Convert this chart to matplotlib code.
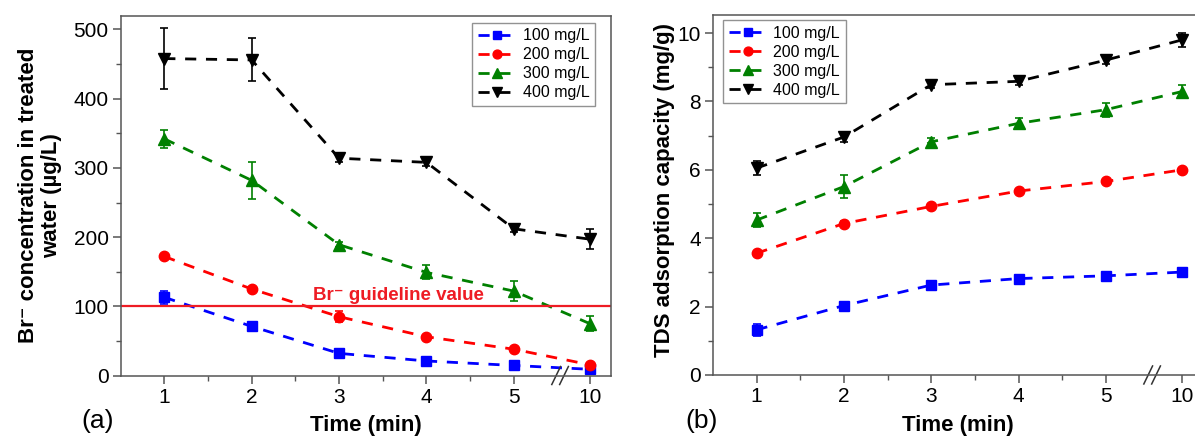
import matplotlib
matplotlib.use('Agg')
import matplotlib.pyplot as plt
import numpy as np

plt.rcParams['font.family'] = ['Liberation Sans', 'DejaVu Sans']

# data
time_labels = ['1', '2', '3', '4', '5', '10']
x_pos = np.array([1, 2, 3, 4, 5, 5.87])  # broken axis: 10 min drawn after 5
conc_labels = ['100 mg/L', '200 mg/L', '300 mg/L', '400 mg/L']

br_100 = [113, 71, 32, 21, 14.5, 9]
br_200 = [172, 125, 85, 56, 38, 15.5]
br_300 = [342, 282, 189, 149, 122, 75]
br_400 = [458, 456, 314, 308, 212, 197]
br_100_err = [9, 4, 4, 3, 3, 3]
br_200_err = [3, 3, 8, 3, 3, 3]
br_300_err = [13, 27, 4, 10, 14, 11]
br_400_err = [44, 31, 5, 5, 5, 14]

tds_100 = [1.32, 2.03, 2.63, 2.82, 2.90, 3.01]
tds_200 = [3.56, 4.43, 4.93, 5.38, 5.66, 6.00]
tds_300 = [4.53, 5.51, 6.82, 7.36, 7.76, 8.29]
tds_400 = [6.05, 6.96, 8.49, 8.59, 9.21, 9.80]
tds_100_err = [0.18, 0.08, 0.07, 0.07, 0.08, 0.07]
tds_200_err = [0.07, 0.07, 0.07, 0.07, 0.05, 0.05]
tds_300_err = [0.2, 0.33, 0.1, 0.15, 0.2, 0.2]
tds_400_err = [0.2, 0.15, 0.1, 0.12, 0.1, 0.2]

guideline = 100

colors = ['#0000ff', '#ff0000', '#008000', '#000000']
markers = ['s', 'o', '^', 'v']
msizes = [6.5, 7.5, 8, 8]
spine_c = '#555555'


def style_axes(ax, ylim, ymajor, yminor):
    ax.set_xlim(0.505, 6.11)
    ax.set_ylim(*ylim)
    ax.set_xticks(x_pos)
    ax.set_xticklabels(time_labels)
    ax.set_xticks([1.5, 2.5, 3.5, 4.5], minor=True)
    ax.set_yticks(ymajor)
    ax.set_yticks(yminor, minor=True)
    for s in ax.spines.values():
        s.set_color(spine_c)
        s.set_linewidth(1.1)
    ax.tick_params(which='major', direction='out', length=6, width=1.1,
                   color=spine_c, labelsize=15, pad=3)
    ax.tick_params(which='minor', direction='out', length=3.5, width=1.0,
                   color=spine_c)
    # axis break marks
    brk = 5.53
    for dx in (-0.045, 0.045):
        ax.plot([brk + dx - 0.05, brk + dx + 0.05], [-0.025, 0.025],
                transform=ax.get_xaxis_transform(), color='#333333',
                lw=1.1, clip_on=False)
    ax.set_xlabel('Time (min)', fontsize=16, fontweight='bold')
    ax.xaxis.set_label_coords(0.5, -0.11)


def draw(ax, series, errs):
    for i in range(4):
        ax.errorbar(x_pos, series[i], yerr=errs[i], fmt='none',
                    ecolor=colors[i], elinewidth=1.2, capsize=3,
                    capthick=1.2)
        ax.plot(x_pos, series[i], color=colors[i], marker=markers[i],
                markersize=msizes[i], lw=2.0, dashes=(4, 3.5),
                label=conc_labels[i])


fig = plt.figure(figsize=(11.95, 4.41), dpi=100)
ax1 = fig.add_axes([0.1013, 0.1485, 0.4098, 0.8160])
ax2 = fig.add_axes([0.5969, 0.1497, 0.4096, 0.8163])

draw(ax1, [br_100, br_200, br_300, br_400],
     [br_100_err, br_200_err, br_300_err, br_400_err])
ax1.axhline(guideline, color='#ee1c24', lw=1.6)
ax1.text(2.70, guideline + 8.5, 'Br\u207b guideline value', color='#ee1c24',
         fontsize=13.5, fontweight='bold', ha='left', va='baseline')
style_axes(ax1, (0, 520), np.arange(0, 501, 100), np.arange(50, 501, 100))

draw(ax2, [tds_100, tds_200, tds_300, tds_400],
     [tds_100_err, tds_200_err, tds_300_err, tds_400_err])
style_axes(ax2, (0, 10.53), np.arange(0, 11, 2), np.arange(1, 10, 2))

leg_kw = dict(fontsize=11.5, frameon=True, fancybox=False, borderaxespad=0,
              labelspacing=0.25, handlelength=2.4, handletextpad=0.4,
              borderpad=0.35, numpoints=1, markerscale=0.85)
l1 = ax1.legend(loc='upper right', bbox_to_anchor=(0.968, 0.98), **leg_kw)
l2 = ax2.legend(loc='upper left', bbox_to_anchor=(0.02, 0.986), **leg_kw)
for lg in (l1, l2):
    lg.get_frame().set_edgecolor('#777777')
    lg.get_frame().set_linewidth(1.0)

fig.text(0.0335, 0.556, 'Br\u207b concentration in treated\nwater (\u00b5g/L)',
         rotation=90, ha='center', va='center', multialignment='center',
         fontsize=16, fontweight='bold', linespacing=1.15)
fig.text(0.556, 0.569, 'TDS adsorption capacity (mg/g)', rotation=90,
         ha='center', va='center', fontsize=16, fontweight='bold')

fig.text(0.082, 0.045, '(a)', fontsize=19, ha='center', va='center')
fig.text(0.587, 0.045, '(b)', fontsize=19, ha='center', va='center')

fig.savefig('out.png', dpi=100)
